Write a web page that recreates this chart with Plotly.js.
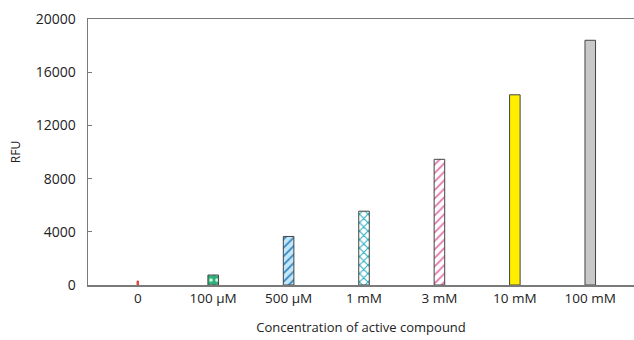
<!DOCTYPE html>
<html>
<head>
<meta charset="utf-8">
<script src="https://cdn.plot.ly/plotly-3.0.1.min.js"></script>
<style>html,body{margin:0;padding:0;background:#fff;}#chart{width:634px;height:340px;}</style>
</head>
<body>
<div id="chart"></div>
<script>
// Data
const categories = ["0", "100 µM", "500 µM", "1 mM", "3 mM", "10 mM", "100 mM"];
const rfu = [300, 750, 3650, 5550, 9450, 14300, 18400];
const yTicks = [0, 4000, 8000, 12000, 16000, 20000];

// Styles
const barWidths = [0.02, 0.14, 0.14, 0.14, 0.14, 0.14, 0.14];
const bgColors = ["#e8463c", "#2fb07a", "#c4e6f7", "#ffffff", "#ffffff", "#ffee00", "#c8c8c8"];
const fgColors = ["#e8463c", "#c8f4dc", "#2f86c4", "#20abbd", "#e073ad", "#ffee00", "#c8c8c8"];
const shapes = ["", ".", "/", "x", "/", "", ""];
const lineColors = ["#e8463c", "#444", "#444", "#444", "#444", "#444", "#444"];

const traces = categories.map((c, i) => {
  const marker = {
    color: bgColors[i],
    line: { color: lineColors[i], width: 1 }
  };
  if (shapes[i]) {
    marker.pattern = { shape: shapes[i], fgcolor: fgColors[i], bgcolor: bgColors[i], size: 6, solidity: 0.3, fillmode: "replace" };
  }
  return {
    type: "bar",
    x: [c],
    y: [rfu[i]],
    width: [barWidths[i]],
    marker: marker,
    hoverinfo: "skip"
  };
});

const font = { family: "Open Sans, Noto Sans, sans-serif", color: "#222" };

const layout = {
  width: 634, height: 340,
  margin: { l: 88, r: 0, t: 19, b: 55 },
  paper_bgcolor: "#fff", plot_bgcolor: "#fff",
  showlegend: false,
  barmode: "overlay",
  font: font,
  xaxis: {
    type: "category",
    categoryorder: "array",
    categoryarray: categories,
    range: [-0.66, 6.58],
    showline: true, mirror: true, linecolor: "#7a7a7a", linewidth: 1.5,
    showgrid: false, zeroline: false, ticks: "",
    tickfont: { size: 13.5, color: "#222" },
    title: { text: "Concentration of active compound", font: { size: 13, color: "#222" }, standoff: 17 }
  },
  yaxis: {
    range: [0, 20000],
    tickvals: yTicks,
    ticktext: yTicks.map(String),
    showline: true, linecolor: "#7a7a7a", linewidth: 1.5,
    showgrid: false, zeroline: false,
    ticks: "inside", ticklen: 4, tickcolor: "#7a7a7a",
    ticklabelstandoff: 8,
    tickfont: { size: 14, color: "#222" },
    title: { text: "RFU", font: { size: 12, color: "#222" }, standoff: 12 }
  }
};

Plotly.newPlot("chart", traces, layout, { staticPlot: true, displayModeBar: false });
</script>
</body>
</html>
